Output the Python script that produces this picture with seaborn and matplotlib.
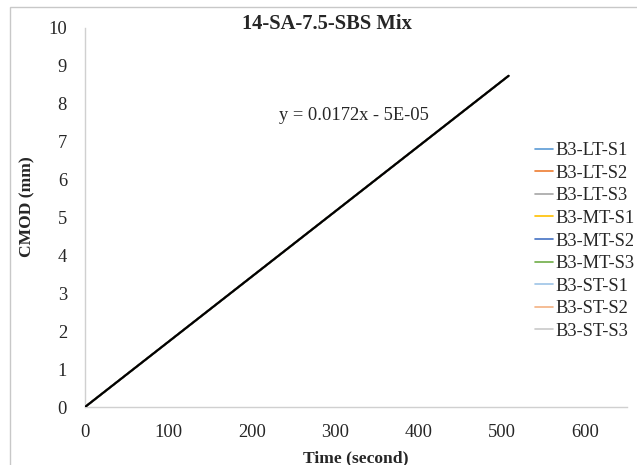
import numpy as np
import pandas as pd
import matplotlib
matplotlib.use('Agg')
import matplotlib.pyplot as plt
import seaborn as sns
from matplotlib.patches import Rectangle

# Datos (las nueve probetas practicamente se superponen)
time_s = [0, 50, 100, 150, 200, 250, 300, 350, 400, 450, 500, 508]
cmod_mm = [0, 0.86, 1.72, 2.58, 3.44, 4.30, 5.16, 6.02, 6.88, 7.74, 8.60, 8.74]

series_names = ['B3-LT-S1', 'B3-LT-S2', 'B3-LT-S3',
                'B3-MT-S1', 'B3-MT-S2', 'B3-MT-S3',
                'B3-ST-S1', 'B3-ST-S2', 'B3-ST-S3']
series_colors = ['#5B9BD5', '#ED7D31', '#A5A5A5',
                 '#FFC000', '#4472C4', '#70AD47',
                 '#9DC3E6', '#F4B183', '#C9C9C9']

x_ticks = [0, 100, 200, 300, 400, 500, 600]
y_ticks = [0, 1, 2, 3, 4, 5, 6, 7, 8, 9, 10]

title = '14-SA-7.5-SBS Mix'
trend_label = 'y = 0.0172x - 5E-05'

# Estilo
sns.set_style('white')
plt.rcParams['font.family'] = ['Liberation Serif', 'DejaVu Serif']
FS = 13.3

W, H = 637, 465
fig = plt.figure(figsize=(W / 100, H / 100), dpi=100)
ax = fig.add_axes([85 / W, 1 - 407 / H, (627 - 85) / W, (407 - 28) / H])

# Tabla larga para seaborn
df = pd.DataFrame({
    'Time': time_s * len(series_names),
    'CMOD': cmod_mm * len(series_names),
    'Serie': np.repeat(series_names, len(time_s)),
})

sns.lineplot(data=df, x='Time', y='CMOD', hue='Serie', hue_order=series_names,
             palette=series_colors, estimator=None, sort=False,
             linewidth=1.2, ax=ax)

# Linea de tendencia lineal (como en Excel)
coef = np.polyfit(time_s, cmod_mm, 1)
xx = np.array([min(time_s), max(time_s)])
ax.plot(xx, np.polyval(coef, xx), color='black', linewidth=1.6, zorder=5)
ax.text(323, 7.7, trend_label, ha='center', va='center', fontsize=FS)

ax.set_xlim(0, 650)
ax.set_ylim(0, 10)
ax.set_xticks(x_ticks)
ax.set_yticks(y_ticks)
ax.tick_params(axis='both', length=0, labelsize=FS)
ax.tick_params(axis='x', pad=12)
ax.tick_params(axis='y', pad=13)

for s in ['top', 'right']:
    ax.spines[s].set_visible(False)
for s in ['left', 'bottom']:
    ax.spines[s].set_color('#D0D0D0')
    ax.spines[s].set_linewidth(1.0)

ax.set_xlabel('Time (second)', fontsize=12.6, fontweight='bold', va='center')
ax.set_ylabel('CMOD (mm)', fontsize=12.6, fontweight='bold', va='center')
ax.xaxis.set_label_coords(0.5, -(458 - 407) / 379)
ax.yaxis.set_label_coords(-(85 - 27) / 542, 0.528)

# Leyenda a la derecha, sin marco
handles, labels = ax.get_legend_handles_labels()
ax.legend(handles[:len(series_names)], labels[:len(series_names)],
          loc='center left', bbox_to_anchor=(535 / W, 1 - 241 / H),
          bbox_transform=fig.transFigure, frameon=False, fontsize=FS,
          handlelength=0.95, handletextpad=0.18, labelspacing=0.3,
          borderaxespad=0, borderpad=0)

fig.text(327 / W, 1 - 24 / H, title, ha='center', va='center',
         fontsize=14.8, fontweight='bold')

# Borde del area del grafico
fig.patches.append(Rectangle((10 / W, -0.1), 1.2, 1 - 7 / H + 0.1,
                             transform=fig.transFigure, fill=False,
                             edgecolor='#C8C8C8', linewidth=1.0))

fig.savefig('out.png', dpi=100)
